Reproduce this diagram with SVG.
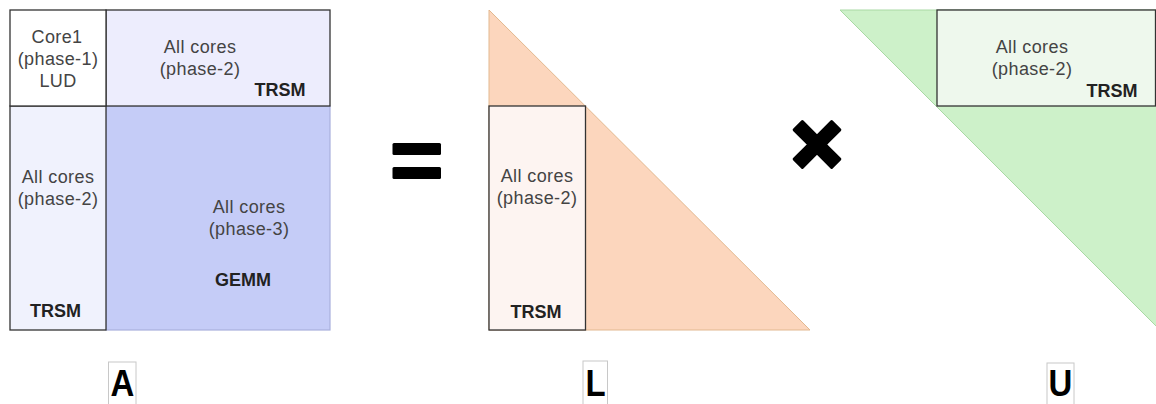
<svg xmlns="http://www.w3.org/2000/svg" width="1156" height="404" viewBox="0 0 1156 404">
<style>
.t{font-family:"Liberation Sans",Arial,sans-serif;font-size:18px;fill:#444;text-anchor:middle;letter-spacing:0.4px}
.b{font-family:"Liberation Sans",Arial,sans-serif;font-size:18px;font-weight:bold;fill:#222;text-anchor:middle}
.big{font-family:"Liberation Sans",Arial,sans-serif;font-size:33px;font-weight:bold;fill:#000;text-anchor:middle}
.cell{stroke:#333;stroke-width:1.3}
.lbox{fill:none;stroke:#c8c8c8;stroke-width:1}
</style>
<rect width="1156" height="404" fill="#fff"/>
<g id="matrixA">
  <g id="A-gemm"><rect x="106" y="106" width="224" height="224" fill="#c5ccf7" stroke="#a9b0dc" stroke-width="1.2"/>
    <text class="t" x="249" y="213">All cores</text><text class="t" x="249" y="235">(phase-3)</text><text class="b" x="243" y="286">GEMM</text></g>
  <g id="A-trsm-top"><rect class="cell" x="106" y="10" width="224" height="96" fill="#ededfd"/>
    <text class="t" x="200" y="53">All cores</text><text class="t" x="200" y="75">(phase-2)</text><text class="b" x="280" y="96">TRSM</text></g>
  <g id="A-trsm-left"><rect class="cell" x="10" y="106" width="96" height="224" fill="#f0f2fd"/>
    <text class="t" x="58" y="183">All cores</text><text class="t" x="58" y="205">(phase-2)</text><text class="b" x="55.5" y="317">TRSM</text></g>
  <g id="A-lud"><rect class="cell" x="10" y="10" width="96" height="96" fill="#fff"/>
    <text class="t" x="57" y="43">Core1</text><text class="t" x="58" y="65">(phase-1)</text><text class="t" x="58" y="87">LUD</text></g>
</g>
<g id="equals">
  <rect x="392.5" y="143" width="48.5" height="12" rx="1.5" fill="#000"/>
  <rect x="392.5" y="167" width="48.5" height="12" rx="1.5" fill="#000"/>
</g>
<g id="matrixL">
  <polygon points="489,10 489,330 810,330" fill="#fcd6bd" stroke="#e2b88f" stroke-width="1"/>
  <g id="L-trsm"><rect class="cell" x="489" y="106" width="96.5" height="224" fill="#fdf4f1"/>
    <text class="t" x="537" y="182">All cores</text><text class="t" x="537" y="204">(phase-2)</text><text class="b" x="536" y="318">TRSM</text></g>
</g>
<g id="times">
  <polygon transform="translate(817,144.5) rotate(45)" points="5.8,5.8 26.5,5.8 26.5,-5.8 5.8,-5.8 5.8,-26.5 -5.8,-26.5 -5.8,-5.8 -26.5,-5.8 -26.5,5.8 -5.8,5.8 -5.8,26.5 5.8,26.5" fill="#000" stroke="#000" stroke-width="3" stroke-linejoin="round"/>
</g>
<g id="matrixU">
  <polygon points="840,10 1160,10 1160,330" fill="#cdf1c9" stroke="#a9d9a4" stroke-width="1"/>
  <g id="U-trsm"><rect class="cell" x="937" y="10" width="218.5" height="96" fill="#eef8ed"/>
    <text class="t" x="1032" y="53">All cores</text><text class="t" x="1032" y="75">(phase-2)</text><text class="b" x="1112" y="97">TRSM</text></g>
</g>
<g id="labels">
  <g id="label-A"><rect class="lbox" x="108.5" y="362" width="27.5" height="60"/><text class="big" transform="translate(122.5,396) scale(1,1.12)" x="0" y="0">A</text></g>
  <g id="label-L"><rect class="lbox" x="583" y="361" width="24.5" height="60"/><text class="big" transform="translate(595.5,396) scale(1,1.12)" x="0" y="0">L</text></g>
  <g id="label-U"><rect class="lbox" x="1047" y="363" width="27" height="60"/><text class="big" transform="translate(1060.5,396) scale(1,1.12)" x="0" y="0">U</text></g>
</g>
<g id="connectors"/>
</svg>
